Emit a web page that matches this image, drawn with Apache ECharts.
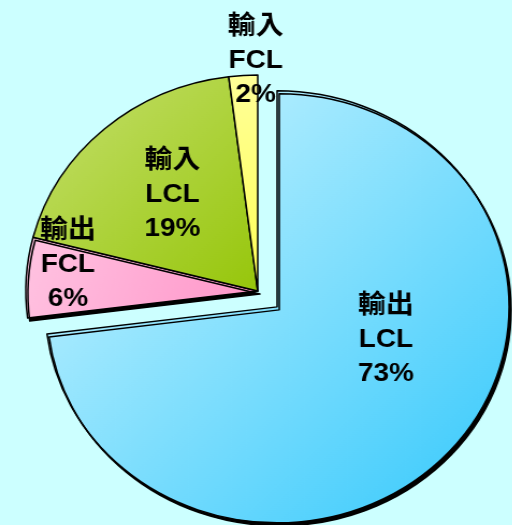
<!DOCTYPE html>
<html>
<head>
<meta charset="utf-8">
<script src="https://cdn.jsdelivr.net/npm/echarts@6/dist/echarts.min.js"></script>
<style>
  html, body { margin: 0; padding: 0; background: #ccffff; overflow: hidden; }
  /* the original pie is a little wider than tall */
  #main { width: 477px; height: 525px; transform: scaleX(1.074); transform-origin: 0 0; }
</style>
</head>
<body>
<div id="main"></div>
<script>
var names = ['輸出\nLCL', '輸出\nFCL', '輸入\nLCL', '輸入\nFCL'];
var values = [73, 6, 19, 2];

var chart = echarts.init(document.getElementById('main'));

function grad(a, b) {
  return new echarts.graphic.LinearGradient(0, 0, 1, 1, [
    { offset: 0, color: a },
    { offset: 1, color: b }
  ]);
}

// per-slice look: fill, label nudge, shadow
var looks = [
  { color: grad('#d2f7ff', '#33c8fc'), nudge: [18, -40], shadow: true, selected: true },
  { color: grad('#ffc4e2', '#ff94c8'), nudge: [-66, -19], shadow: true },
  { color: grad('#c6e070', '#96c60a'), nudge: [-6, -13], shadow: false },
  { color: grad('#ffff99', '#ffff55'), nudge: [5, -119], shadow: false }
];

var data = values.map(function (v, i) {
  var lk = looks[i];
  return {
    name: names[i],
    value: v,
    selected: !!lk.selected,
    itemStyle: {
      color: lk.color,
      shadowColor: lk.shadow ? '#000' : 'transparent',
      shadowOffsetX: lk.shadow ? 2 : 0,
      shadowOffsetY: lk.shadow ? 3 : 0,
      shadowBlur: 0
    }
  };
});

chart.setOption({
  backgroundColor: '#ccffff',
  animation: false,
  series: [{
    type: 'pie',
    center: [240, 291],
    radius: [0, 216],
    startAngle: 90,
    clockwise: true,
    selectedMode: 'multiple',
    selectedOffset: 24,
    avoidLabelOverlap: false,
    itemStyle: {
      borderColor: '#000',
      borderWidth: 1.5
    },
    label: {
      show: true,
      position: 'inside',
      formatter: function (p) { return p.name + '\n' + p.value + '%'; },
      color: '#000',
      fontSize: 26,
      fontWeight: 'bold',
      lineHeight: 34,
      fontFamily: '"Liberation Sans", "Noto Sans CJK TC", sans-serif'
    },
    labelLayout: function (p) {
      var n = looks[p.dataIndex].nudge;
      return { dx: n[0], dy: n[1] };
    },
    labelLine: { show: false },
    emphasis: { disabled: true },
    data: data
  }]
});
</script>
</body>
</html>
